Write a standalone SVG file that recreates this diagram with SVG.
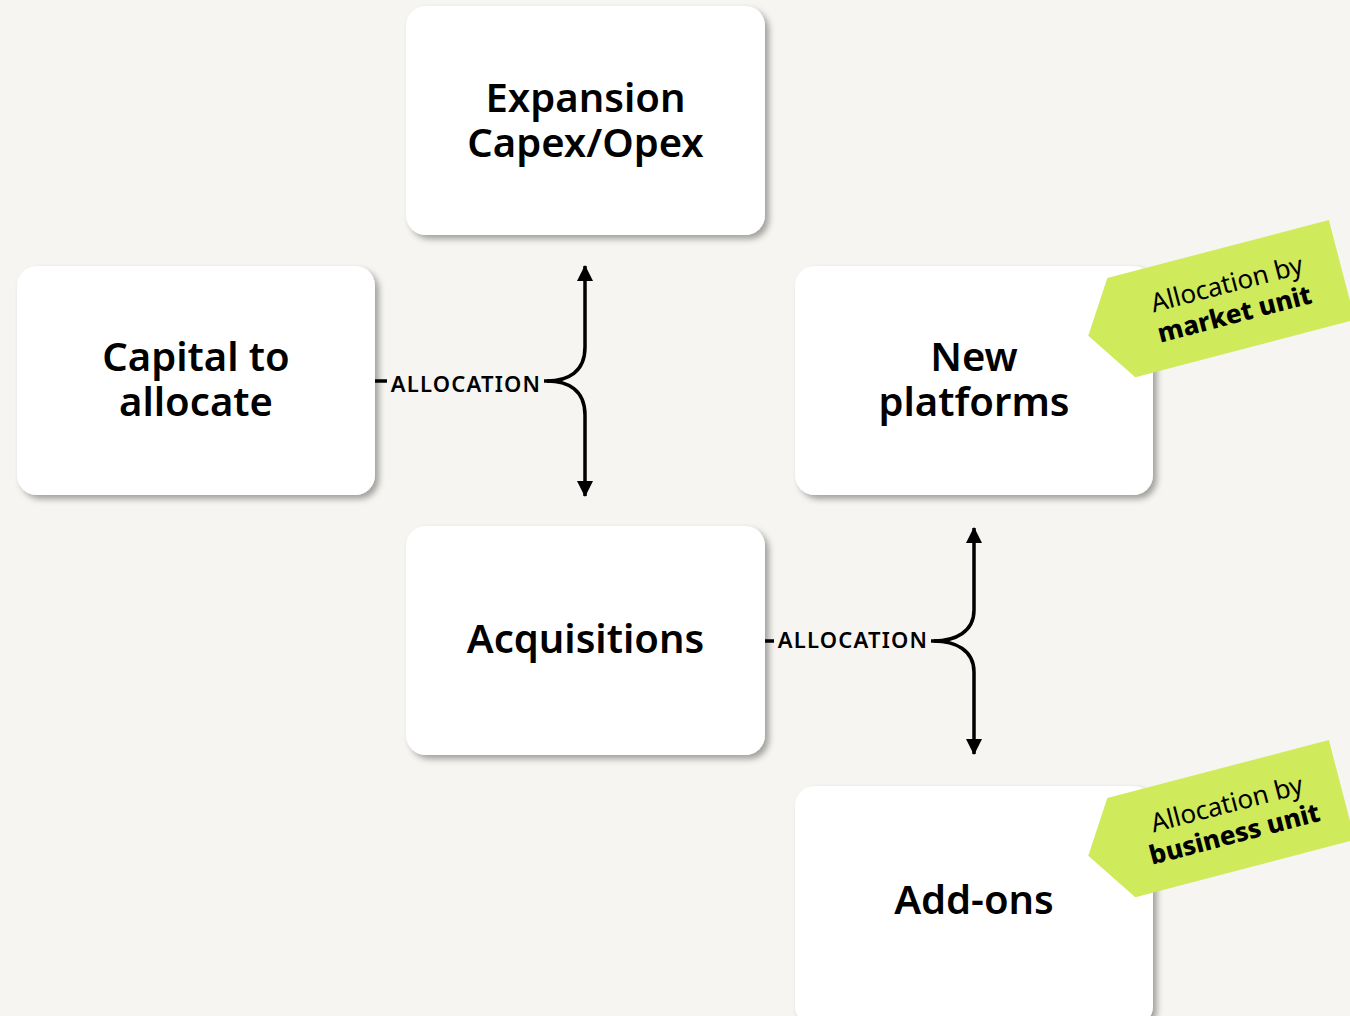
<svg xmlns="http://www.w3.org/2000/svg" width="1350" height="1016" viewBox="0 0 1350 1016">
<defs>
<filter id="sh" x="-10%" y="-10%" width="125%" height="130%">
<feDropShadow dx="4" dy="4" stdDeviation="3" flood-color="#000" flood-opacity="0.35"/>
</filter>
<marker id="ah" markerUnits="userSpaceOnUse" markerWidth="18" markerHeight="18" refX="15" refY="8" orient="auto">
<path d="M0,0 L16,8 L0,16 z" fill="#000"/>
</marker>
<polygon id="tag" points="1001,549 1230,549 1230,652 1003,652 968,600" fill="#CFEA5B"/>
</defs>
<style>
.box{fill:#fff;filter:url(#sh)}
.nt{font-family:"Noto Sans","DejaVu Sans",sans-serif;font-weight:600;font-size:40px;fill:#000;text-anchor:middle}
.lbl{font-family:"Noto Sans","DejaVu Sans",sans-serif;font-weight:600;font-size:22px;letter-spacing:1.2px;fill:#000;text-anchor:middle}
.ln{fill:none;stroke:#000;stroke-width:3.5}
.tr{font-family:"Noto Sans","DejaVu Sans",sans-serif;font-weight:400;font-size:26px;fill:#000;text-anchor:middle}
.tb{font-family:"Noto Sans","DejaVu Sans",sans-serif;font-weight:800;font-size:26px;fill:#000;text-anchor:middle}
</style>
<rect width="1350" height="1016" fill="#F6F5F1"/>

<g id="connectors">
<line class="ln" x1="375" y1="381" x2="548" y2="381"/>
<rect x="387" y="368" width="157" height="28" fill="#F6F5F1"/>
<text class="lbl" x="466" y="392">ALLOCATION</text>
<path class="ln" d="M547,381 C568,381 585,372 585,347 L585,266" marker-end="url(#ah)"/>
<path class="ln" d="M547,381 C568,381 585,390 585,415 L585,496" marker-end="url(#ah)"/>

<line class="ln" x1="765" y1="641" x2="935" y2="641"/>
<rect x="774" y="628" width="157" height="28" fill="#F6F5F1"/>
<text class="lbl" x="853" y="648">ALLOCATION</text>
<path class="ln" d="M934,641 C955,641 974,632 974,610 L974,528" marker-end="url(#ah)"/>
<path class="ln" d="M934,641 C955,641 974,650 974,672 L974,754" marker-end="url(#ah)"/>
</g>

<g id="node-expansion">
<rect class="box" x="406" y="6" width="359" height="229" rx="20"/>
<text class="nt"><tspan x="585.5" y="112">Expansion</tspan><tspan x="585.5" y="157">Capex/Opex</tspan></text>
</g>
<g id="node-capital">
<rect class="box" x="17" y="266" width="358" height="229" rx="20"/>
<text class="nt"><tspan x="196" y="371">Capital to</tspan><tspan x="196" y="416">allocate</tspan></text>
</g>
<g id="node-newplatforms">
<rect class="box" x="795" y="266" width="358" height="229" rx="20"/>
<text class="nt"><tspan x="974" y="371">New</tspan><tspan x="974" y="416">platforms</tspan></text>
</g>
<g id="node-acquisitions">
<rect class="box" x="406" y="526" width="359" height="229" rx="20"/>
<text class="nt" x="585.5" y="653">Acquisitions</text>
</g>
<g id="node-addons">
<rect class="box" x="795" y="786" width="358" height="240" rx="20"/>
<text class="nt" x="974" y="914">Add-ons</text>
</g>

<g id="tag-market" transform="rotate(-14.65)">
<use href="#tag"/>
<text><tspan class="tr" x="1115" y="594">Allocation by</tspan><tspan class="tb" x="1115" y="625">market unit</tspan></text>
</g>
<g id="tag-business" transform="translate(0,520) rotate(-14.65)">
<use href="#tag"/>
<text><tspan class="tr" x="1115" y="594">Allocation by</tspan><tspan class="tb" x="1115" y="625">business unit</tspan></text>
</g>
</svg>
